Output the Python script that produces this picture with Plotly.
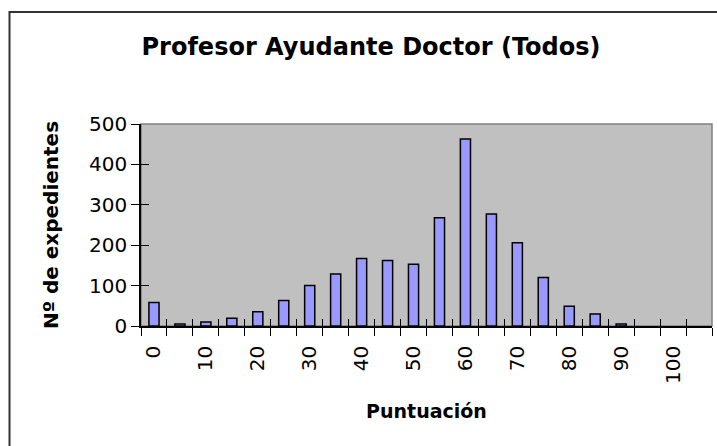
import plotly.graph_objects as go

# Data
puntuacion = [0, 5, 10, 15, 20, 25, 30, 35, 40, 45, 50, 55, 60, 65, 70, 75, 80, 85, 90, 95, 100, 105]
expedientes = [58, 5, 10, 19, 35, 63, 100, 129, 167, 162, 153, 268, 463, 277, 206, 120, 49, 30, 5, 0, 0, 0]
tick_vals = [0, 10, 20, 30, 40, 50, 60, 70, 80, 90, 100]
tick_text = [str(v) for v in tick_vals]
y_ticks = [0, 100, 200, 300, 400, 500]

title_text = "Profesor Ayudante Doctor (Todos)"
x_title = "Puntuación"
y_title = "Nº de expedientes"

FONT = "DejaVu Sans"

fig = go.Figure()
fig.add_trace(go.Bar(
    x=puntuacion, y=expedientes,
    width=1.95,
    marker=dict(color="#9999FF",
                line=dict(color="#000000", width=[1.5 if v > 0 else 0 for v in expedientes])),
    showlegend=False, hoverinfo="x+y",
))
# invisible trace for overlay axes (inside half of crossing ticks)
fig.add_trace(go.Scatter(
    x=puntuacion, y=expedientes, xaxis="x2", yaxis="y2",
    mode="none", showlegend=False, hoverinfo="skip",
))

xr = [-2.5, 107.5]
yr = [0, 500]

fig.update_layout(
    width=717, height=446,
    margin=dict(l=141, r=5, t=124, b=120),
    paper_bgcolor="white",
    plot_bgcolor="#C0C0C0",
    font=dict(family=FONT, color="black"),
    title=dict(
        text="<b>" + title_text + "</b>",
        font=dict(family=FONT, size=24, color="black"),
        xref="container", x=371 / 717, xanchor="center",
        yref="container", y=1 - 47 / 446, yanchor="middle",
    ),
    xaxis=dict(
        range=xr,
        tickmode="array", tickvals=tick_vals, ticktext=tick_text,
        tickangle=-90,
        ticks="outside", ticklen=10, tickcolor="rgba(0,0,0,0)",
        minor=dict(ticks="outside", tick0=-2.5, dtick=5, ticklen=8,
                   tickcolor="black", tickwidth=1, showgrid=False),
        tickfont=dict(family=FONT, size=20, color="black"),
        showline=True, linecolor="black", linewidth=1.5,
        showgrid=False, zeroline=False,
        title=dict(text="<b>" + x_title + "</b>",
                   font=dict(family=FONT, size=19, color="black"), standoff=22),
    ),
    yaxis=dict(
        range=yr,
        tickmode="array", tickvals=y_ticks,
        ticks="outside", ticklen=8, tickcolor="black", tickwidth=1,
        tickfont=dict(family=FONT, size=20, color="black"),
        showline=True, linecolor="black", linewidth=1.5,
        showgrid=False, zeroline=False,
        title=dict(text="<b>" + y_title + "</b>",
                   font=dict(family=FONT, size=20, color="black"), standoff=25),
    ),
    xaxis2=dict(
        overlaying="x", range=xr, showticklabels=False,
        tickmode="linear", tick0=-2.5, dtick=5,
        ticks="inside", ticklen=7, tickcolor="black", tickwidth=1,
        showgrid=False, zeroline=False, showline=False,
    ),
    yaxis2=dict(
        overlaying="y", range=yr, showticklabels=False,
        tickmode="array", tickvals=y_ticks,
        ticks="inside", ticklen=8, tickcolor="black", tickwidth=1,
        showgrid=False, zeroline=False, showline=False,
    ),
    shapes=[
        # gray frame around plot area (top/right visible)
        dict(type="rect", xref="paper", yref="paper", x0=0, y0=0, x1=1, y1=1,
             line=dict(color="#808080", width=1.5), fillcolor="rgba(0,0,0,0)", layer="below"),
        # outer chart border (left and top visible, cropped on right/bottom)
        dict(type="rect", xref="paper", yref="paper",
             x0=(9.5 - 141) / 571, x1=1.2, y0=-0.8, y1=(326 - 12) / 202,
             line=dict(color="#333333", width=2), fillcolor="rgba(0,0,0,0)", layer="above"),
    ],
    bargap=0.6,
)

fig.write_html(
    "out.html",
    config={"displayModeBar": False},
    post_script="document.body.style.margin='0px';document.body.style.overflow='hidden';",
)
